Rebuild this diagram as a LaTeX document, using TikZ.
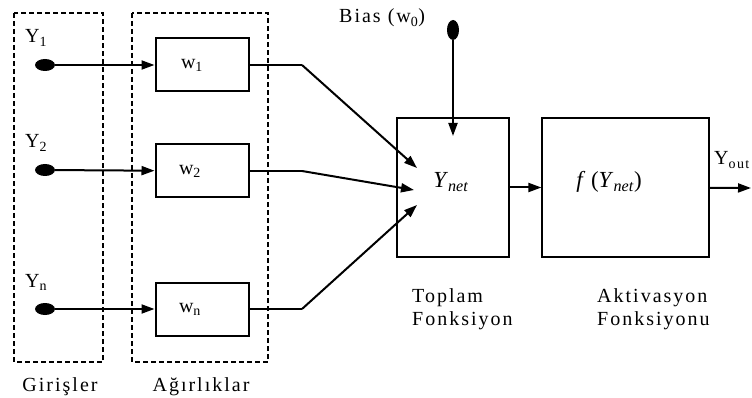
\documentclass[tikz,border=0pt]{standalone}
\usepackage{fontspec}
\setmainfont{Liberation Serif}
\usepackage{tikz}
\usetikzlibrary{calc}
\usetikzlibrary{shapes.geometric,arrows.meta}

\begin{document}
\begin{tikzpicture}[x=1pt,y=-1pt,
    yazi/.style={font=\fontsize{20}{23}\selectfont\addfontfeature{LetterSpace=10}},
    kesikkutu/.style={draw,line width=2pt,dash pattern=on 5pt off 3pt},
    wkutu/.style={draw,line width=2pt,minimum width=93pt,minimum height=53pt,inner sep=0pt,font=\fontsize{20}{22}\selectfont},
    fkutu/.style={draw,line width=1.2pt,inner sep=0pt},
    nokta/.style={ellipse,fill=black,inner sep=0pt,minimum width=20pt,minimum height=12pt},
    ok/.style={line width=2pt,-{Triangle[length=13pt,width=9pt]}}]
    \useasboundingbox (0,0) rectangle (752,398);
    %KESIK KUTULAR
    \draw[kesikkutu] (14,13) rectangle (103,362);
    \draw[kesikkutu] (132,13) rectangle (268,362);
    \node[yazi,anchor=base] (giris) at (60,391) {Girişler};
    \node[yazi,anchor=base] (agirlik) at (201,391) {Ağırlıklar};
    %GIRISLER
    \node[yazi,anchor=base west,inner sep=0pt] (y1) at (25,43) {Y\textsubscript{1}};
    \node[yazi,anchor=base west,inner sep=0pt] (y2) at (25,148) {Y\textsubscript{2}};
    \node[yazi,anchor=base west,inner sep=0pt] (yn) at (25,287) {Y\textsubscript{n}};
    \node[nokta] (n1) at (45,65) {};
    \node[nokta] (n2) at (45,170) {};
    \node[nokta] (nn) at (45,309) {};
    %AGIRLIKLAR
    \node[wkutu] (w1) at (202,65) {\hspace*{-20pt}\raisebox{3pt}{w\textsubscript{1}}};
    \node[wkutu] (w2) at (202,171) {\hspace*{-24pt}\raisebox{3pt}{w\textsubscript{2}}};
    \node[wkutu] (wn) at (202,309) {\hspace*{-24pt}\raisebox{3pt}{w\textsubscript{n}}};
    \draw[ok] (n1) -- (w1);
    \draw[ok] (n2) -- (w2);
    \draw[ok] (nn) -- (wn);
    %TOPLAM
    \node[fkutu,minimum width=112pt,minimum height=139pt] (toplam) at (453,187.5) {};
    \node[font=\fontsize{23}{26}\selectfont] (ynet) at (451,182) {\textit{Y}\textsubscript{\textit{net}}};
    \node[yazi,anchor=north west,align=left,inner sep=0pt] (toplamad) at (412,288) {Toplam\\Fonksiyon};
    %BAGLANTILAR
    \coordinate (k1) at (302,65);
    \coordinate (k2) at (302,171);
    \coordinate (kn) at (302,309);
    \coordinate (u1) at (417,168);
    \coordinate (u2) at (414,190);
    \coordinate (un) at (417,205);
    \draw[line width=1.3pt] (w1) -- (k1);
    \draw[line width=1.3pt] (w2) -- (k2);
    \draw[line width=1.3pt] (wn) -- (kn);
    \draw[ok] (k1) -- (u1);
    \draw[ok] (k2) -- (u2);
    \draw[ok] (kn) -- (un);
    %BIAS
    \node[yazi,anchor=base west,inner sep=0pt] (bias) at (339,23) {Bias (w\textsubscript{0})};
    \node[nokta,minimum width=12pt,minimum height=20pt] (nb) at (453,30) {};
    \coordinate (ub) at (453,136);
    \draw[ok] (nb) -- (ub);
    %AKTIVASYON
    \node[fkutu,minimum width=167pt,minimum height=139pt] (aktiv) at (625.5,187.5) {};
    \node[font=\fontsize{23}{26}\selectfont] (fynet) at (609,182) {\textit{f} (\textit{Y}\textsubscript{\textit{net}})};
    \node[yazi,anchor=north west,align=left,inner sep=0pt] (aktivad) at (597,288) {Aktivasyon\\Fonksiyonu};
    \draw[ok] (toplam) -- (aktiv);
    %CIKIS
    \coordinate (cikis) at (751,188);
    \draw[ok] (aktiv) -- (cikis);
    \node[yazi,anchor=base west,inner sep=0pt] (yout) at (714,165) {Y\textsubscript{out}};
\end{tikzpicture}
\end{document}
